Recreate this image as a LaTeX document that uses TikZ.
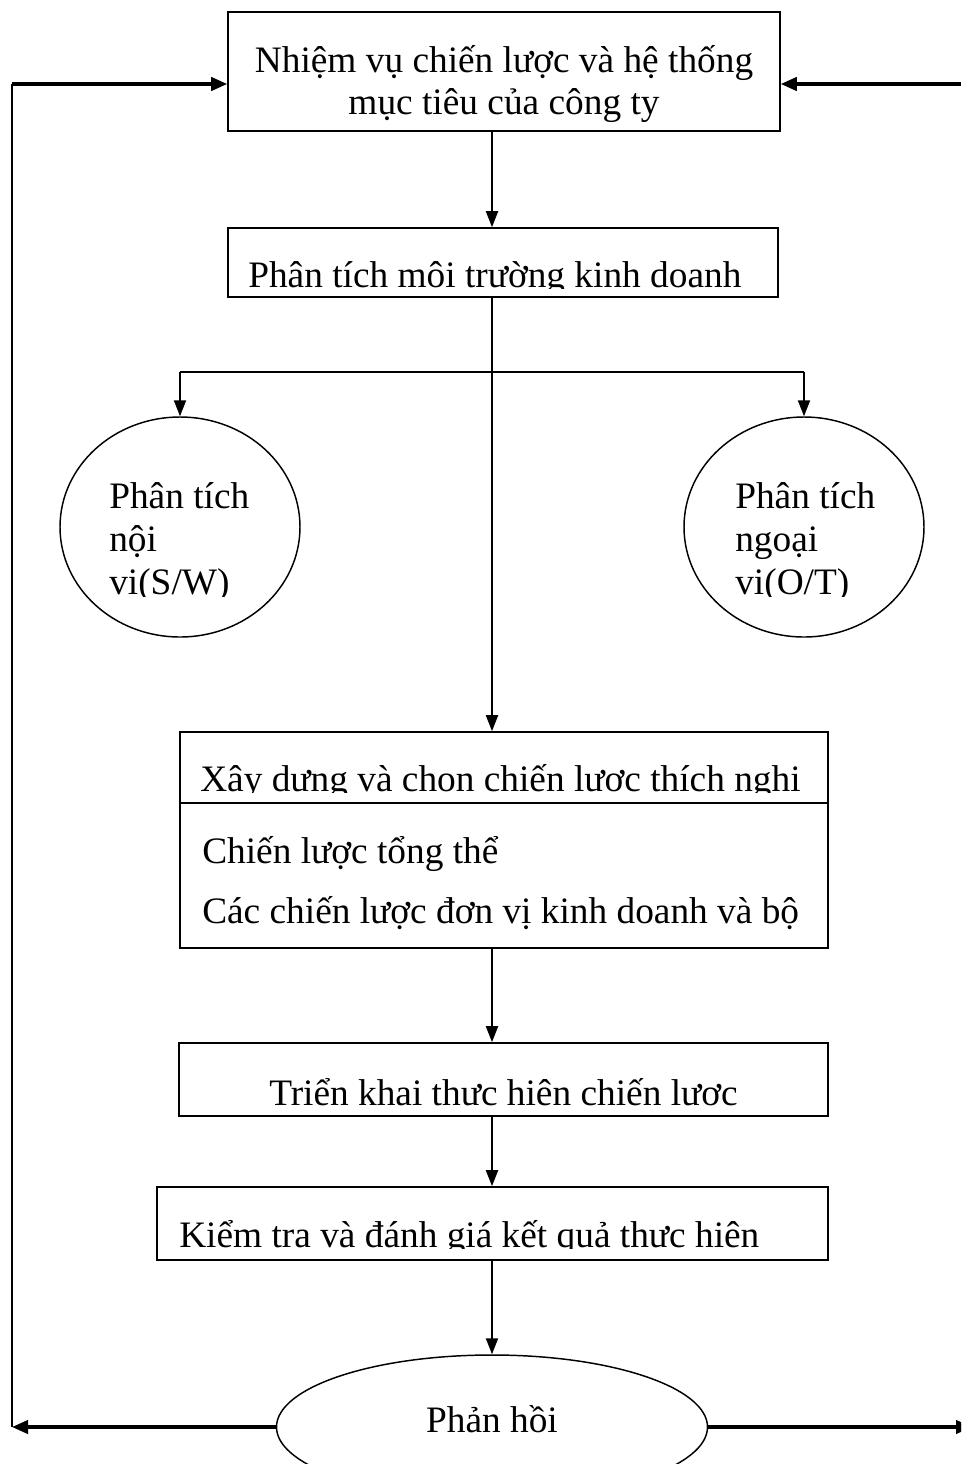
\documentclass[tikz,border=0pt]{standalone}
\usepackage{fontspec}
\setmainfont{Liberation Serif}
\usetikzlibrary{arrows.meta,shapes.geometric}
\begin{document}
\begin{tikzpicture}[x=0.75pt,y=-0.75pt,
  box/.style={draw, line width=1.2pt, rectangle, inner sep=0pt},
  oval/.style={draw, line width=1.1pt, ellipse, inner sep=0pt},
  txt/.style={inner sep=0pt, font=\fontsize{28}{31}\selectfont},
  arr/.style={line width=1.4pt, -{Triangle[length=12pt,width=9pt]}},
  fb/.style={line width=2.4pt, -{Triangle[length=12pt,width=10pt]}},
  plain/.style={line width=1.4pt},
  thinline/.style={line width=1.1pt}]
\clip (0,0) rectangle (961,1464);
\coordinate (ax) at (492,0);
\coordinate (lx) at (12,84);
\coordinate (rx) at (961,84);
\coordinate (re) at (972,0);
\coordinate (br) at (492,372);
\coordinate (dv) at (0,803);
% boxes
\node[box, minimum width=414pt, minimum height=89.25pt] (b1) at (504,71.5) {};
\node[box, minimum width=412.5pt, minimum height=51.75pt] (b2) at (503,262.5) {};
\node[oval, minimum width=180pt, minimum height=165pt] (eL) at (180,527) {};
\node[oval, minimum width=180pt, minimum height=165pt] (eR) at (804,527) {};
\node[box, minimum width=486pt, minimum height=162pt] (b3) at (504,840) {};
\draw[line width=1.2pt] (b3.west |- dv) -- (b3.east |- dv);
\node[box, minimum width=486.75pt, minimum height=54.75pt] (b4) at (503.5,1079.5) {};
\node[box, minimum width=503.25pt, minimum height=54.75pt] (b5) at (492.5,1223.5) {};
\node[oval, minimum width=323.25pt, minimum height=108pt] (eF) at (492,1427) {};
% texts
\node[txt, anchor=base] (t1a) at (504,72) {Nhiệm vụ chiến lược và hệ thống};
\node[txt, anchor=base] (t1b) at (504,114) {mục tiêu của công ty};
\begin{scope}
\clip (228,228) rectangle (778,288);
\node[txt, anchor=base west] (t2) at (248,287) {Phân tích môi trường kinh doanh};
\end{scope}
\begin{scope}
\clip (60,417) rectangle (300,596);
\node[txt, anchor=base west] (tl1) at (109,508) {Phân tích};
\node[txt, anchor=base west] (tl2) at (109,551) {nội};
\node[txt, anchor=base west] (tl3) at (109,594) {vi(S/W)};
\end{scope}
\begin{scope}
\clip (684,417) rectangle (924,596);
\node[txt, anchor=base west] (tr1) at (735,508) {Phân tích};
\node[txt, anchor=base west] (tr2) at (735,551) {ngoại};
\node[txt, anchor=base west] (tr3) at (735,594) {vi(O/T)};
\end{scope}
\begin{scope}
\clip (180,732) rectangle (828,792);
\node[txt, anchor=base west] (t3a) at (200,791) {Xây dựng và chọn chiến lược thích nghi};
\end{scope}
\node[txt, anchor=base west] (t3b) at (202,863) {Chiến lược tổng thể};
\node[txt, anchor=base west] (t3c) at (202,923) {Các chiến lược đơn vị kinh doanh và bộ};
\begin{scope}
\clip (180,1043) rectangle (828,1106);
\node[txt, anchor=base west] (t4) at (269,1105) {Triển khai thực hiện chiến lược};
\end{scope}
\begin{scope}
\clip (157,1187) rectangle (828,1248);
\node[txt, anchor=base west] (t5) at (179,1247) {Kiểm tra và đánh giá kết quả thực hiện};
\end{scope}
\node[txt, anchor=base] (t6) at (492,1432) {Phản hồi};
% connectors
\draw[arr] (b1.south -| ax) -- (b2.north -| ax);
\draw[arr] (b2.south -| ax) -- (b3.north -| ax);
\draw[plain] (br -| eL.north) -- (br -| eR.north);
\draw[arr] (br -| eL.north) -- (eL.north);
\draw[arr] (br -| eR.north) -- (eR.north);
\draw[arr] (b3.south -| ax) -- (b4.north -| ax);
\draw[arr] (b4.south -| ax) -- (b5.north -| ax);
\draw[arr] (b5.south -| ax) -- (eF.north);
% feedback
\draw[fb] (eF.west) -- (eF.west -| lx);
\draw[thinline] (eF.west -| lx) -- (lx);
\draw[fb] (lx) -- (lx -| b1.west);
\draw[fb] (rx) -- (rx -| b1.east);
\draw[fb] (eF.east) -- (eF.east -| re);
\end{tikzpicture}
\end{document}
